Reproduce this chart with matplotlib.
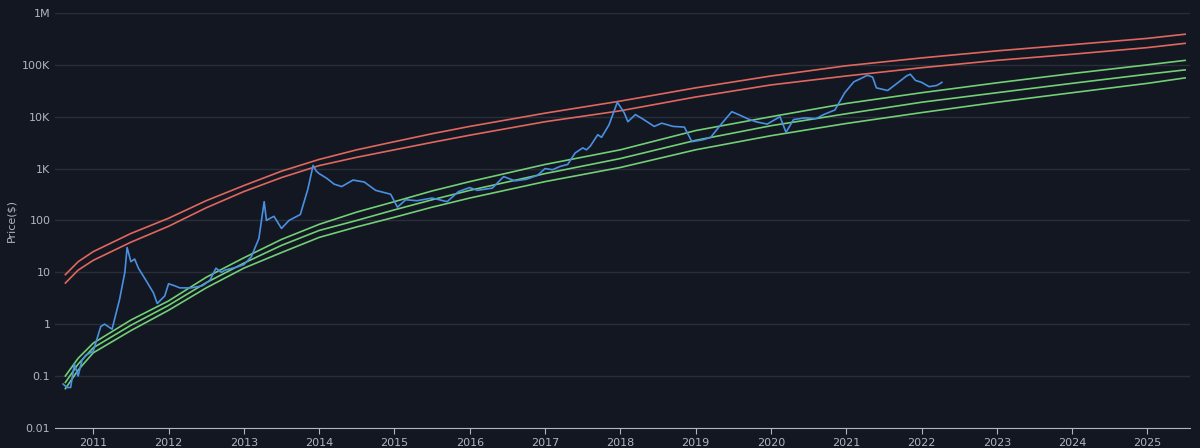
import matplotlib
matplotlib.use("Agg")
import matplotlib.pyplot as plt
import numpy as np

band_years = [2010.63, 2010.8, 2011, 2011.5, 2012, 2012.5, 2013, 2013.5, 2014, 2014.5, 2015, 2015.5, 2016, 2017, 2018, 2019, 2020, 2021, 2022, 2023, 2024, 2025, 2025.5]
red_upper = [9, 16, 25, 56, 110, 240, 470, 890, 1500, 2300, 3300, 4700, 6500, 11700, 20000, 36000, 61000, 96000, 136000, 186000, 245000, 324000, 390000]
red_lower = [6.2, 11, 17, 38, 77, 175, 360, 670, 1140, 1650, 2300, 3200, 4400, 8000, 13000, 24000, 41000, 61000, 88000, 122000, 160000, 215000, 260000]
green_top = [0.1, 0.22, 0.43, 1.2, 2.8, 8, 19, 43, 84, 145, 230, 370, 560, 1200, 2300, 5400, 10000, 18000, 29000, 45000, 68000, 100000, 122000]
green_mid = [0.075, 0.17, 0.35, 0.95, 2.3, 6.3, 15, 33, 64, 100, 160, 250, 380, 800, 1560, 3500, 6700, 11400, 19000, 29000, 44000, 66000, 80000]
green_bot = [0.057, 0.13, 0.28, 0.75, 1.85, 5, 12, 24, 47, 75, 115, 180, 270, 560, 1050, 2300, 4300, 7400, 12000, 19000, 29000, 44000, 56000]

price_years = [2010.6, 2010.65, 2010.7, 2010.75, 2010.8, 2010.85, 2010.9, 2011.0, 2011.1, 2011.15, 2011.25, 2011.35, 2011.42, 2011.45,
               2011.5, 2011.55, 2011.6, 2011.7, 2011.8, 2011.85,
               2011.95, 2012.0, 2012.08, 2012.15, 2012.3, 2012.45, 2012.55, 2012.63, 2012.7, 2012.75, 2012.9, 2013.0, 2013.1,
               2013.2, 2013.27, 2013.3, 2013.35,
               2013.4, 2013.5, 2013.6, 2013.75, 2013.85, 2013.92, 2013.96, 2014.0, 2014.1, 2014.2, 2014.3, 2014.45, 2014.6, 2014.75,
               2014.95, 2015.04, 2015.15, 2015.3, 2015.5, 2015.7, 2015.85, 2016.0, 2016.1, 2016.3, 2016.45, 2016.6, 2016.75, 2016.9, 2017.0,
               2017.1, 2017.2, 2017.3, 2017.4, 2017.5, 2017.55, 2017.6, 2017.7, 2017.75, 2017.85, 2017.96, 2018.05, 2018.1, 2018.2,
               2018.3, 2018.45, 2018.55, 2018.7, 2018.85, 2018.95,
               2019.1, 2019.2, 2019.35, 2019.48, 2019.6, 2019.7, 2019.8, 2019.95, 2020.12, 2020.2, 2020.3, 2020.45, 2020.6, 2020.7,
               2020.85, 2020.98, 2021.1, 2021.2, 2021.28,
               2021.35, 2021.4, 2021.55, 2021.7, 2021.8, 2021.85, 2021.92, 2022.0, 2022.1, 2022.2, 2022.25, 2022.27]
price = [0.07, 0.06, 0.06, 0.17, 0.1, 0.2, 0.25, 0.3, 0.9, 1.0, 0.8, 3, 10, 30,
         16, 18, 12, 7, 4, 2.5,
         3.5, 6, 5.5, 5, 5, 5.5, 7, 12, 10, 11, 12.5, 14, 20,
         45, 230, 100, 110,
         120, 70, 100, 130, 400, 1150, 900, 800, 650, 500, 450, 600, 550, 380,
         320, 180, 250, 240, 270, 230, 360, 430, 380, 420, 700, 580, 620, 740, 1000,
         950, 1100, 1200, 2000, 2500, 2300, 2700, 4500, 4000, 7000, 19000, 12000, 8000, 11000,
         9000, 6500, 7500, 6500, 6300, 3300,
         3600, 4000, 7500, 12500, 10500, 9000, 8000, 7200, 10000, 5000, 8800, 9500, 9200, 11000,
         13500, 29000, 47000, 55000, 63000,
         58000, 36000, 32000, 47000, 61000, 66000, 50000, 46000, 38000, 40000, 44000, 46000]

x_ticks = list(range(2011, 2026))
y_ticks = [0.01, 0.1, 1, 10, 100, 1e3, 1e4, 1e5, 1e6]
y_labels = ["0.01", "0.1", "1", "10", "100", "1K", "10K", "100K", "1M"]

bg = "#131722"
fig = plt.figure(figsize=(12, 4.48), dpi=100, facecolor=bg)
ax = fig.add_axes([0.046, 0.045, 0.946, 0.926], facecolor=bg)
ax.set_yscale("log")
ax.set_ylim(0.01, 1e6)
ax.set_xlim(2010.495, 2025.57)

for vals in (red_upper, red_lower):
    ax.plot(band_years, vals, color="#e0675e", lw=1.2)
for vals in (green_top, green_mid, green_bot):
    ax.plot(band_years, vals, color="#72cf76", lw=1.2)
ax.plot(price_years, price, color="#4a90e2", lw=1.2)

ax.set_yticks(y_ticks)
ax.set_yticklabels(y_labels)
ax.minorticks_off()
ax.set_xticks(x_ticks)
ax.set_xticklabels([str(x) for x in x_ticks])
ax.grid(axis="y", color="#2a2e39", lw=1)
ax.tick_params(colors="#b2b5be", labelsize=8, length=0)
ax.tick_params(axis="x", length=4, color="#b2b5be")
for s in ("top", "right", "left"):
    ax.spines[s].set_visible(False)
ax.spines["bottom"].set_color("#b2b5be")
ax.set_ylabel("Price($)", color="#b2b5be", fontsize=8)
fig.savefig("out.png", facecolor=bg)
